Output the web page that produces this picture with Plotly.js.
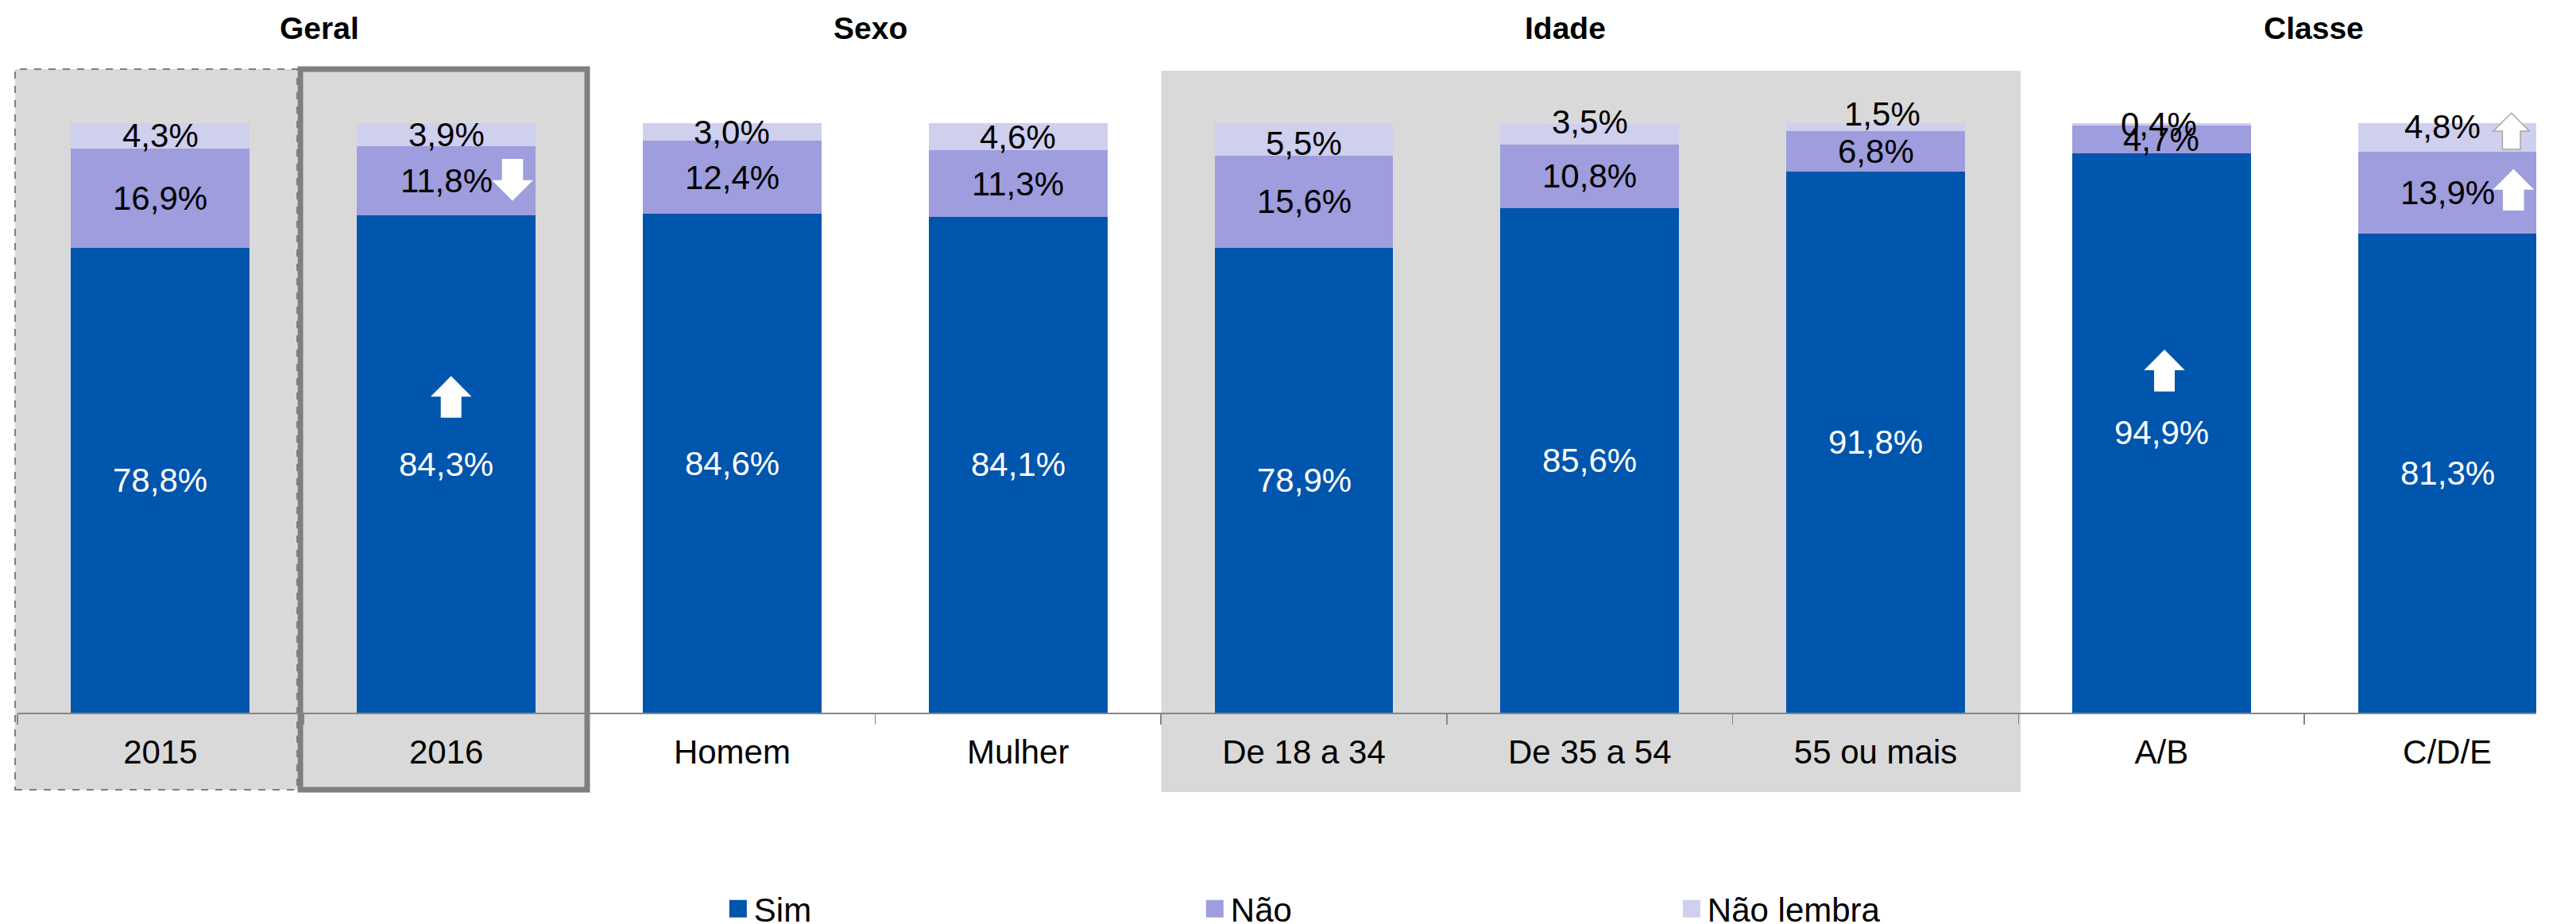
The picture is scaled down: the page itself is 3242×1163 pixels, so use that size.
<!DOCTYPE html>
<html><head><meta charset="utf-8">
<script src="https://cdn.plot.ly/plotly-3.0.1.min.js"></script>
<style>html,body{margin:0;padding:0;background:#fff;overflow:hidden}#c{width:3242px;height:1163px}</style>
</head><body><div id="c"></div>
<script>
const categories = ['2015','2016','Homem','Mulher','De 18 a 34','De 35 a 54','55 ou mais','A/B','C/D/E'];
const sim = [78.8,84.3,84.6,84.1,78.9,85.6,91.8,94.9,81.3];
const nao = [16.9,11.8,12.4,11.3,15.6,10.8,6.8,4.7,13.9];
const naoLembra = [4.3,3.9,3.0,4.6,5.5,3.5,1.5,0.4,4.8];
const groupLabels = ['Geral','Sexo','Idade','Classe'];
const groupPixelX = [402,1095,1970,2912];
const naoLembraNudge = [0,0,0,0,5,-15,-16,0,-13];
const naoLembraNudgeX = [0,0,0,0,0,0,8,-3,-6];

const W=3242,H=1163,L=22,R=3192,T=155,B=897,FONT='"Liberation Sans", Arial, sans-serif';
const fmt=v=>v.toFixed(1).replace('.',',')+'%';
const px=x=>(x-L)/(R-L), py=y=>(B-y)/(B-T);
function bar(name,vals,color){return {type:'bar',name,x:categories,y:vals,marker:{color,line:{width:0}},textposition:'none',hoverinfo:'skip'};}
const traces=[bar('Sim',sim,'#0055AD'),bar('Não',nao,'#9E9DDD'),bar('Não lembra',naoLembra,'#CFCFEE')];
function rect(x0,y0,x1,y1,fill,line){return {type:'rect',xref:'paper',yref:'paper',x0:px(x0),x1:px(x1),y0:py(y1),y1:py(y0),fillcolor:fill,line:line||{width:0},layer:'below'};}
function arrow(cx,tip,shoulder,tail,hw,sw,line){
 const p=(x,y)=>px(x).toFixed(6)+','+py(y).toFixed(6);
 const d='M'+p(cx,tip)+'L'+p(cx+hw,shoulder)+'L'+p(cx+sw,shoulder)+'L'+p(cx+sw,tail)+'L'+p(cx-sw,tail)+'L'+p(cx-sw,shoulder)+'L'+p(cx-hw,shoulder)+'Z';
 return {type:'path',xref:'paper',yref:'paper',path:d,fillcolor:'#ffffff',line:line||{width:0},layer:'above'};
}
const shapes=[
 rect(19,87,374,994,'#D9D9D9',{color:'#7F7F7F',width:2,dash:'dash'}),
 rect(378,87,739,994,'#D9D9D9',{color:'#7F7F7F',width:7}),
 rect(1461.5,89,2543,997,'#D9D9D9'),
 arrow(567.7,473.3,499.3,525.7,25.8,13),
 arrow(645,252.7,226.7,200,26,13.3),
 arrow(2724,440,466,492.7,25.8,13),
 arrow(3163.3,212.7,238.7,265,26,13.3),
 arrow(3160.7,142.3,165,188,22.7,11.3,{color:'#A6A6A6',width:1.5})
];
const annotations=groupLabels.map((t,i)=>({text:'<b>'+t+'</b>',xref:'paper',yref:'paper',x:px(groupPixelX[i]),y:py(35),xanchor:'center',yanchor:'middle',showarrow:false,font:{family:FONT,size:39,color:'#000'}}));
function labels(vals,base,color,nudge,nudgeX){vals.forEach((v,i)=>annotations.push({text:fmt(v),xref:'x',yref:'y',x:i,y:base[i]+v/2,xanchor:'center',yanchor:'middle',showarrow:false,yshift:-(nudge?nudge[i]:0),xshift:nudgeX?nudgeX[i]:0,font:{family:FONT,size:42,color},borderpad:0,captureevents:false}));}
labels(sim,sim.map(()=>0),'#ffffff');
labels(nao,sim,'#000000');
labels(naoLembra,sim.map((s,i)=>s+nao[i]),'#000000',naoLembraNudge,naoLembraNudgeX);
const layout={width:W,height:H,barmode:'stack',bargap:0.375,paper_bgcolor:'#fff',plot_bgcolor:'rgba(0,0,0,0)',
 margin:{l:L,r:W-R,t:T,b:H-B,pad:0,autoexpand:false},font:{family:FONT,size:42,color:'#000'},
 xaxis:{type:'category',categoryorder:'array',categoryarray:categories,range:[-0.5,8.311],fixedrange:true,tickson:'boundaries',ticks:'outside',ticklen:13,tickwidth:1.5,tickcolor:'#868686',showline:true,linecolor:'#868686',linewidth:2,showgrid:false,zeroline:false,tickfont:{family:FONT,size:42,color:'#000'},ticklabelstandoff:12,automargin:false},
 yaxis:{range:[0,100],visible:false,fixedrange:true},
 showlegend:true,
 legend:{orientation:'h',x:907/W,y:py(1144),xanchor:'left',yanchor:'middle',entrywidth:555,entrywidthmode:'pixels',font:{family:FONT,size:42,color:'#000'},traceorder:'normal',bgcolor:'rgba(0,0,0,0)'},
 shapes,annotations};
Plotly.newPlot('c',traces,layout,{displayModeBar:false,staticPlot:true}).then(gd=>{
 document.querySelectorAll('.legend .legendpoints path').forEach(p=>p.setAttribute('d','M11,11H-11V-11H11Z'));
});
</script></body></html>
